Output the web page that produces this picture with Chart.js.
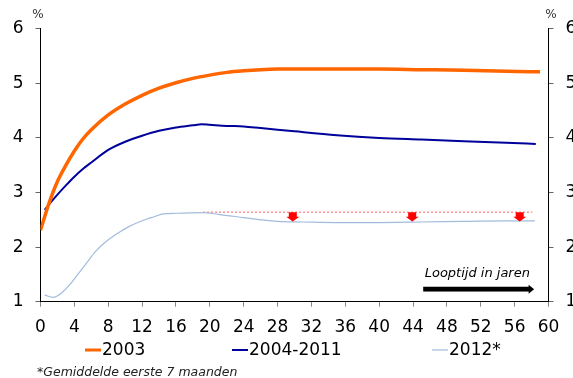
<!DOCTYPE html>
<html>
<head>
<meta charset="utf-8">
<script src="https://cdn.jsdelivr.net/npm/chart.js@4/dist/chart.umd.min.js"></script>
<style>
  html, body { margin: 0; padding: 0; background: #fff; overflow: hidden; width: 573px; height: 378px; }
  #wrap { position: relative; width: 600px; height: 378px; }
</style>
</head>
<body>
<div id="wrap"><canvas id="c"></canvas></div>
<script>
// Rente naar looptijd (jaren), in %
const years2003 = [0, 1, 2, 3, 4, 5, 6, 8, 10, 12, 14, 16, 18, 20, 22, 24, 26, 28, 30, 35, 40, 45, 50, 55, 59];
const rates2003 = [2.31, 2.80, 3.20, 3.50, 3.76, 3.98, 4.15, 4.42, 4.62, 4.78, 4.91, 5.01, 5.09, 5.15, 5.20, 5.23, 5.25, 5.26, 5.26, 5.26, 5.26, 5.25, 5.24, 5.22, 5.21];

const years0411 = [0.5, 1, 2, 3, 4, 5, 6, 8, 10, 12, 14, 16, 18, 19, 20, 22, 24, 26, 28, 30, 35, 40, 45, 50, 55, 58.5];
const rates0411 = [2.68, 2.78, 2.96, 3.13, 3.29, 3.43, 3.55, 3.78, 3.93, 4.04, 4.13, 4.19, 4.23, 4.25, 4.24, 4.22, 4.21, 4.18, 4.15, 4.12, 4.05, 4.00, 3.97, 3.94, 3.91, 3.89];

const years2012 = [0.5, 1.5, 2.5, 3.5, 4.5, 5.5, 6.5, 7.5, 8.5, 9.5, 10.5, 11.5, 12.5, 13.5, 14.5, 16, 19.2, 21, 24, 26, 28, 31, 35, 40, 45, 50, 55, 58.4];
const rates2012 = [1.12, 1.08, 1.16, 1.32, 1.52, 1.72, 1.92, 2.07, 2.19, 2.29, 2.38, 2.45, 2.51, 2.56, 2.61, 2.62, 2.63, 2.60, 2.54, 2.50, 2.47, 2.46, 2.45, 2.45, 2.46, 2.47, 2.48, 2.48];

// Niveau van de piek in 2012 en de daling daaronder
const refYears = [19.2, 58.1];
const refRates = [2.64, 2.64];
const arrowYears = [29.8, 43.9, 56.6];
const arrowFrom = 2.64;
const arrowTo = 2.47;

// Pijl "Looptijd in jaren"
const timeArrowYears = [45.2, 58.3];
const timeArrowLevel = 1.23;

const seriesLabels = ['2003', '2004-2011', '2012*'];
const yTicks = [1, 2, 3, 4, 5, 6];
const xTicks = [0, 4, 8, 12, 16, 20, 24, 28, 32, 36, 40, 44, 48, 52, 56, 60];
const footnote = '*Gemiddelde eerste 7 maanden';
const axisUnit = '%';
const axisTitle = 'Looptijd in jaren';

const pts = (xs, ys) => xs.map((v, i) => ({ x: v, y: ys[i] }));

const FONT = 'DejaVu Sans';
const COLORS = ['#FF6600', '#00009A', '#A2BCDC'];
const WIDTHS = [3.5, 2, 1.2];

const extras = {
  id: 'extras',
  afterDatasetsDraw(chart) {
    const { ctx, scales: { x, y } } = chart;
    ctx.save();
    ctx.fillStyle = '#FF0000';
    arrowYears.forEach(yr => {
      const px = x.getPixelForValue(yr);
      const top = y.getPixelForValue(arrowFrom);
      const tip = y.getPixelForValue(arrowTo);
      const mid = top + (tip - top) * 0.5;
      ctx.beginPath();
      ctx.moveTo(px - 4, top);
      ctx.lineTo(px + 4, top);
      ctx.lineTo(px + 4, mid);
      ctx.lineTo(px + 6.5, mid);
      ctx.lineTo(px, tip);
      ctx.lineTo(px - 6.5, mid);
      ctx.lineTo(px - 4, mid);
      ctx.closePath();
      ctx.fill();
    });

    // time direction arrow with caption
    const x0 = x.getPixelForValue(timeArrowYears[0]);
    const x1 = x.getPixelForValue(timeArrowYears[1]);
    const ay = y.getPixelForValue(timeArrowLevel);
    ctx.fillStyle = '#000';
    ctx.fillRect(x0, ay - 2.4, x1 - x0 - 5, 4.8);
    ctx.beginPath();
    ctx.moveTo(x1 - 5.5, ay - 4.5);
    ctx.lineTo(x1, ay);
    ctx.lineTo(x1 - 5.5, ay + 4.5);
    ctx.closePath();
    ctx.fill();
    ctx.font = 'italic 13px "' + FONT + '"';
    ctx.textAlign = 'left';
    ctx.textBaseline = 'alphabetic';
    ctx.fillText(axisTitle, x0 + 1.5, ay - 12.5);
    ctx.restore();
  },
  afterDraw(chart) {
    const { ctx, scales: { y, y2 } } = chart;
    ctx.save();
    // unit above both axes
    ctx.fillStyle = '#333';
    ctx.font = '12px "' + FONT + '"';
    ctx.textAlign = 'center';
    ctx.textBaseline = 'middle';
    ctx.fillText(axisUnit, y.right - 2.5, 15);
    ctx.fillText(axisUnit, y2.left + 2.5, 15);

    // legend
    const legendPos = [85, 232, 432];
    const ly = 350;
    ctx.font = '17px "' + FONT + '"';
    ctx.textAlign = 'left';
    ctx.fillStyle = '#000';
    chart.data.datasets.slice(0, 3).forEach((ds, i) => {
      const lx = legendPos[i];
      ctx.strokeStyle = ds.borderColor;
      ctx.lineWidth = i === 0 ? 3 : (i === 1 ? 2 : 1.2);
      ctx.beginPath();
      ctx.moveTo(lx, ly);
      ctx.lineTo(lx + 16, ly);
      ctx.stroke();
      ctx.fillText(ds.label, lx + 17, ly + 1);
    });

    // footnote
    ctx.font = 'italic 12.5px "' + FONT + '"';
    ctx.fillStyle = '#222';
    ctx.fillText(footnote, 37, 373);
    ctx.restore();
  }
};

const tickFont = { family: FONT, size: 17 };

new Chart(document.getElementById('c'), {
  type: 'line',
  data: {
    datasets: [
      { label: seriesLabels[0], data: pts(years2003, rates2003), borderColor: COLORS[0], borderWidth: WIDTHS[0] },
      { label: seriesLabels[1], data: pts(years0411, rates0411), borderColor: COLORS[1], borderWidth: WIDTHS[1] },
      { label: seriesLabels[2], data: pts(years2012, rates2012), borderColor: COLORS[2], borderWidth: WIDTHS[2] },
      { label: 'piek', data: pts(refYears, refRates), borderColor: '#FF5A5A', borderWidth: 1, borderDash: [2, 2], tension: 0 }
    ]
  },
  options: {
    responsive: true,
    maintainAspectRatio: false,
    devicePixelRatio: 1,
    animation: false,
    layout: { padding: { top: 28.7, left: 0, right: 0, bottom: 0 } },
    elements: {
      point: { radius: 0 },
      line: { cubicInterpolationMode: 'monotone', fill: false, borderCapStyle: 'butt' }
    },
    plugins: { legend: { display: false }, tooltip: { enabled: false } },
    scales: {
      x: {
        type: 'linear', min: 0, max: 60,
        afterBuildTicks: s => { s.ticks = xTicks.map(v => ({ value: v })); },
        afterFit: s => { s.height = 378 - 301.7; },
        ticks: { font: tickFont, color: '#000', padding: 11, maxRotation: 0, autoSkip: false },
        grid: { drawOnChartArea: false, drawTicks: true, tickLength: 5, color: '#8a8a8a' },
        border: { display: true, color: '#000', width: 1 }
      },
      y: {
        position: 'left', min: 1, max: 6,
        afterBuildTicks: s => { s.ticks = yTicks.map(v => ({ value: v })); },
        afterFit: s => { s.width = 40.5; },
        ticks: { font: tickFont, color: '#000', padding: 12 },
        grid: { drawOnChartArea: false, drawTicks: true, tickLength: 5, color: '#666' },
        border: { display: true, color: '#000', width: 1 }
      },
      y2: {
        position: 'right', min: 1, max: 6,
        afterBuildTicks: s => { s.ticks = yTicks.map(v => ({ value: v })); },
        afterFit: s => { s.width = 600 - 548.5; },
        ticks: { font: tickFont, color: '#000', padding: 12 },
        grid: { drawOnChartArea: false, drawTicks: true, tickLength: 5, color: '#666' },
        border: { display: true, color: '#000', width: 1 }
      }
    }
  },
  plugins: [extras]
});
</script>
</body>
</html>
